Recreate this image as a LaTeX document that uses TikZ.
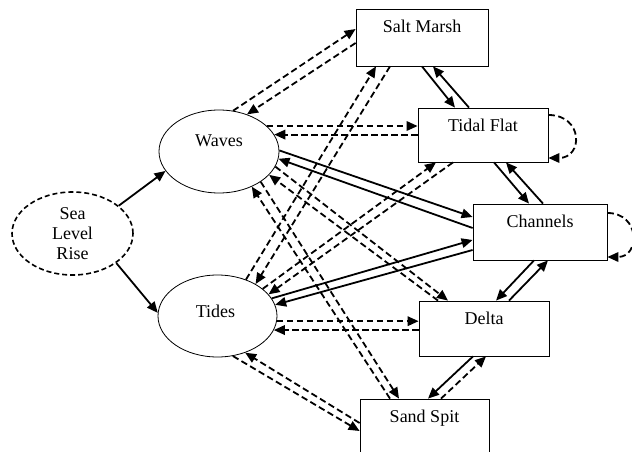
\documentclass[tikz,border=0pt]{standalone}
\usepackage{fontspec}
\setmainfont{Liberation Serif}
\usetikzlibrary{arrows.meta,shapes.geometric,calc}
\begin{document}
\begin{tikzpicture}[x=1pt,y=-1pt,
  box/.style={draw, line width=0.8pt, rectangle, inner sep=0pt},
  oval/.style={draw, line width=0.8pt, ellipse, inner sep=0pt},
  lbl/.style={font=\fontsize{18}{20}\selectfont, inner sep=0pt, anchor=base},
  sar/.style={line width=1.8pt, -{Triangle[length=11pt,width=9.5pt]}},
  dar/.style={sar, dash pattern=on 6.5pt off 3.5pt},
  ]
\useasboundingbox (0,0) rectangle (632,452);
\fill[white] (0,0) rectangle (632,452);
\clip (0,0) rectangle (632,452);

% boxes
\node[box, minimum width=132pt, minimum height=57pt] (sm) at (422,37.5) {};
\node[box, minimum width=130pt, minimum height=54pt] (tf) at (483,135) {};
\node[box, minimum width=134pt, minimum height=56pt] (ch) at (540,232) {};
\node[box, minimum width=130pt, minimum height=55pt] (dl) at (484,328.5) {};
\node[box, minimum width=129pt, minimum height=57pt] (ss) at (424.5,427.5) {};
\node[lbl] (smt) at ([yshift=-23.5pt]sm.north) {Salt Marsh};
\node[lbl] (tft) at ([yshift=-23.5pt]tf.north) {Tidal Flat};
\node[lbl] (cht) at ([yshift=-23.5pt]ch.north) {Channels};
\node[lbl] (dlt) at ([yshift=-23.5pt]dl.north) {Delta};
\node[lbl] (sst) at ([yshift=-23.5pt]ss.north) {Sand Spit};

% ellipses
\node[oval, minimum width=120pt, minimum height=83pt] (w) at (219,151.5) {};
\node[oval, minimum width=119pt, minimum height=82pt] (t) at (217.5,316) {};
\node[lbl] (wt) at ([yshift=4.8pt]w.center) {Waves};
\node[lbl] (tt) at ([xshift=-2pt,yshift=-1pt]t.center) {Tides};
\node[oval, line width=1.6pt, dash pattern=on 5pt off 3pt, minimum width=121pt, minimum height=83pt,
      align=center, font=\fontsize{18}{20}\selectfont] (slr) at (72.5,233.5) {Sea\\Level\\Rise};

% sea level rise
\draw[sar] (slr.31.7) -- (w.200.8);
\draw[sar] (slr.-34.8) -- (t.177);

% waves
\draw[dar] (w.71) -- ([yshift=8.5pt]sm.west);
\draw[dar] ([yshift=-5.5pt]sm.west) -- (w.53);
\draw[dar] (w.28) -- (w.28 -| tf.west);
\draw[dar] (w.17 -| tf.west) -- (w.17);
\draw[sar] (w.1) -- ([yshift=15pt]ch.west);
\draw[sar] ([yshift=4pt]ch.west) -- (w.-7);
\draw[dar] (w.-15.5) -- ([xshift=-36pt]dl.north);
\draw[dar] ([xshift=-46pt]dl.north) -- (w.-25.7);
\draw[dar] (w.-36.6) -- ([xshift=-25.5pt]ss.north);
\draw[dar] ([xshift=-34.5pt]ss.north) -- (w.-47.9);

% tides
\draw[dar] (t.52.5) -- ([xshift=-46pt]sm.south);
\draw[dar] ([xshift=-32pt]sm.south) -- (t.40.8);
\draw[dar] (t.31.7) -- ([xshift=-47pt]tf.south);
\draw[dar] ([xshift=-30pt]tf.south) -- (t.23.4);
\draw[sar] (t.18) -- ([yshift=-8pt]ch.west);
\draw[sar] ([yshift=-18pt]ch.west) -- (t.11.9);
\draw[dar] (t.-5.8) -- (t.-5.8 -| dl.west);
\draw[dar] (t.-14 -| dl.west) -- (t.-14);
\draw[dar] (t.-69.6) -- ([yshift=-3.5pt]ss.west);
\draw[dar] ([yshift=4.5pt]ss.west) -- (t.-53.4);

% chain of boxes
\draw[sar] (sm.south) -- ([xshift=-28pt]tf.north);
\draw[sar] ([xshift=-14pt]tf.north) -- ([xshift=11pt]sm.south);
\draw[sar] ([xshift=11pt]tf.south) -- ([xshift=-11pt]ch.north);
\draw[sar] ([xshift=3pt]ch.north) -- ([xshift=23pt]tf.south);
\draw[sar] ([xshift=-6pt]ch.south) -- ([xshift=12pt]dl.north);
\draw[sar] ([xshift=25pt]dl.north) -- ([xshift=8pt]ch.south);
\draw[sar] ([xshift=-11pt]dl.south) -- ([xshift=3.5pt]ss.north);
\draw[dar] ([xshift=16.5pt]ss.north) -- ([xshift=2pt]dl.south);

% self loops
\draw[dar] ([yshift=20pt]tf.east) .. controls +(35,0) and +(35,0) .. ([yshift=-23pt]tf.east);
\draw[dar] ([yshift=19pt]ch.east) .. controls +(33,0) and +(33,0) .. ([yshift=-25pt]ch.east);
\end{tikzpicture}
\end{document}
